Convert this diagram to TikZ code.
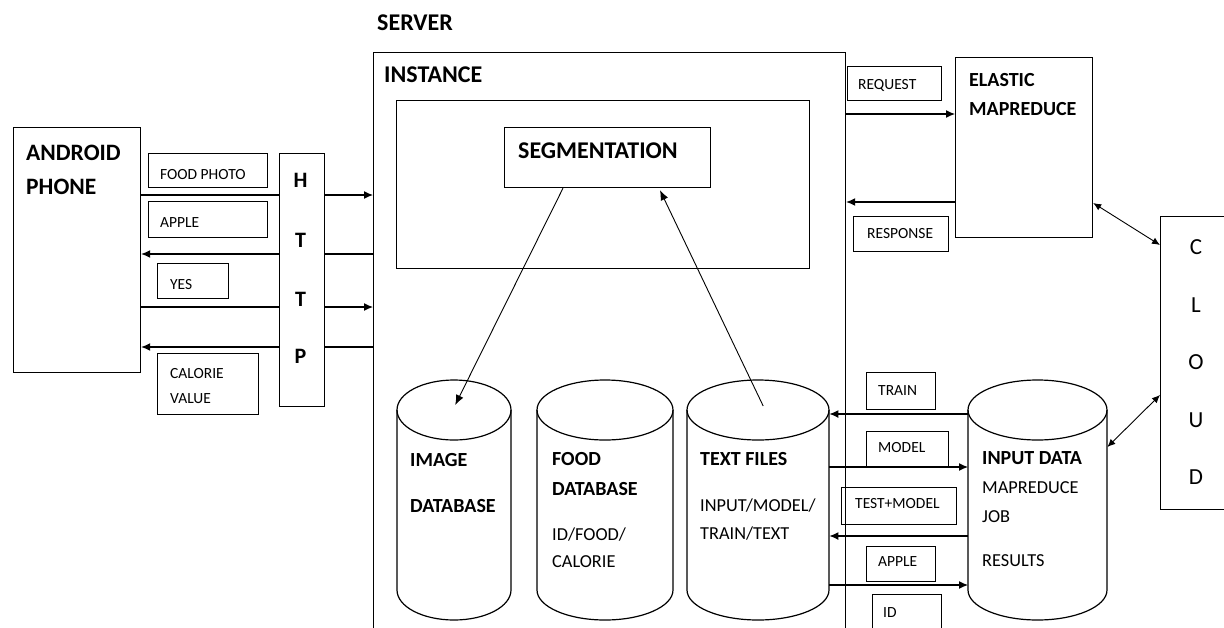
\documentclass[tikz,border=0pt]{standalone}
\usepackage{fontspec}
\setmainfont{Carlito}
\usetikzlibrary{arrows.meta,positioning,calc}

\tikzset{
  line/.style={line width=1.2pt},
  arr/.style={line, -{Latex[length=9pt,width=8pt]}},
  thinarr/.style={line width=0.9pt, -{Latex[length=10pt,width=8pt]}},
  duo/.style={line width=0.9pt, {Latex[length=8pt,width=7pt]}-{Latex[length=8pt,width=7pt]}},
  box/.style={draw, line width=1.2pt, anchor=north west, inner sep=0pt},
  txt/.style={anchor=north west, inner sep=0pt, align=left},
  big/.style={txt, font=\bfseries\fontsize{24}{30}\selectfont},
  mid/.style={txt, font=\bfseries\fontsize{20}{29}\selectfont},
  body/.style={txt, font=\fontsize{18.3}{29}\selectfont},
  small/.style={txt, font=\fontsize{15.5}{25}\selectfont},
  letter/.style={inner sep=0pt, font=\bfseries\fontsize{22}{26}\selectfont},
  cloudch/.style={inner sep=0pt, font=\fontsize{23}{26}\selectfont},
}

% cylinder: name, left, right, top, bottom
\newcommand{\dbcyl}[5]{%
  \pgfmathsetmacro{\cylrx}{(#3-#2)/2}%
  \draw[line] (#2,#4+30) -- (#2,#5-30) arc[start angle=180, end angle=0, x radius=\cylrx, y radius=30] -- (#3,#4+30);
  \draw[line] (#2+\cylrx,#4+30) ellipse[x radius=\cylrx, y radius=30];
  \node[inner sep=0pt, anchor=north west, minimum width={(#3-#2)*1pt}, minimum height={(#5-#4)*1pt}] (#1) at (#2,#4) {};
}

\begin{document}
\begin{tikzpicture}[x=1pt, y=-1pt]
  \useasboundingbox (0,0) rectangle (1224,627);
  % phone and http
  \node[box, minimum width=127pt, minimum height=245pt] (android) at (13,127) {};
  \node[txt, font=\bfseries\fontsize{23.5}{34}\selectfont] (android-t) at (26,145) {ANDROID\\PHONE};
  \node[box, minimum width=45pt, minimum height=253pt] (http) at (279,153) {};
  \foreach \ch/\yy [count=\i] in {H/180, T/240, T/299, P/356}
    \node[letter] (http-\i) at (300.5,\yy) {\ch};
  \node[box, minimum width=119pt, minimum height=34pt] (photo) at (148,153) {};
  \node[small] (photo-t) at (160,169) {FOOD PHOTO};
  \node[box, minimum width=119pt, minimum height=36pt] (apple1) at (148,201) {};
  \node[small] (apple1-t) at (160,217) {APPLE};
  \node[box, minimum width=71pt, minimum height=35pt] (yes) at (157,263) {};
  \node[small] (yes-t) at (170,279) {YES};
  \node[box, minimum width=101pt, minimum height=61pt] (calorie) at (157,353) {};
  \node[small] (calorie-t) at (170,368) {CALORIE\\VALUE};

  % server
  \node[big] (server) at (377,15) {SERVER};
  \node[box, minimum width=472pt, minimum height=620pt] (inst) at (373,52) {};
  \node[big] (inst-t) at (384,67) {INSTANCE};
  \node[box, minimum width=413pt, minimum height=168pt] (inner) at (396,100) {};
  \node[box, minimum width=206pt, minimum height=60pt] (seg) at (504,127) {};
  \node[big] (seg-t) at (518,143) {SEGMENTATION};

  % databases
  \dbcyl{imgdb}{397}{511}{380}{620}
  \dbcyl{fooddb}{537}{673}{380}{620}
  \dbcyl{tfiles}{687}{829}{380}{620}
  \dbcyl{indata}{968}{1107}{380}{620}
  \node[mid] (imgdb-t) at (410,453) {IMAGE\\[17pt]DATABASE};
  \node[body] (fooddb-t) at (552,452) {\textbf{\fontsize{20}{29}\selectfont FOOD}\\[1pt]\textbf{\fontsize{20}{29}\selectfont DATABASE}\\[16pt]ID/FOOD/\\[-2pt]CALORIE};
  \node[body] (tfiles-t) at (700,452) {\textbf{\fontsize{20}{29}\selectfont TEXT FILES}\\[17pt]INPUT/MODEL/\\[-1pt]TRAIN/TEXT};
  \node[body] (indata-t) at (982,451) {\textbf{\fontsize{20}{29}\selectfont INPUT DATA}\\MAPREDUCE\\JOB\\[15pt]RESULTS};

  % cloud side
  \node[box, minimum width=94pt, minimum height=34pt] (request) at (847,66) {};
  \node[small] (request-t) at (858,79) {REQUEST};
  \node[box, minimum width=137pt, minimum height=180pt] (elastic) at (955,57) {};
  \node[mid] (elastic-t) at (969,73) {ELASTIC\\MAPREDUCE};
  \node[box, minimum width=95pt, minimum height=35pt] (response) at (853,216) {};
  \node[small] (response-t) at (867,228) {RESPONSE};
  \node[box, minimum width=100pt, minimum height=293pt] (cloud) at (1160,216) {};
  \foreach \ch/\yy in {C/247, L/305, O/362, U/420, D/477}
    \node[cloudch] (cloud-\ch) at (1196,\yy) {\ch};

  % job labels
  \node[box, minimum width=69pt, minimum height=37pt] (train) at (866,372) {};
  \node[small] (train-t) at (878,385) {TRAIN};
  \node[box, minimum width=82pt, minimum height=35pt] (model) at (866,431) {};
  \node[small] (model-t) at (878,442) {MODEL};
  \node[box, minimum width=115pt, minimum height=37pt] (test) at (841,487) {};
  \node[small] (test-t) at (855,498) {TEST+MODEL};
  \node[box, minimum width=69pt, minimum height=35pt] (apple2) at (866,546) {};
  \node[small] (apple2-t) at (878,556) {APPLE};
  \node[box, minimum width=69pt, minimum height=40pt] (id) at (872,594) {};
  \node[small] (id-t) at (883,607) {ID};

  % http links
  \foreach \yy in {195,307} {
    \draw[line] (android.east |- 0,\yy) -- (http.west |- 0,\yy);
    \draw[arr] (http.east |- 0,\yy) -- (inst.west |- 0,\yy);
  }
  \foreach \yy in {254,347} {
    \draw[arr] (http.west |- 0,\yy) -- (android.east |- 0,\yy);
    \draw[line] (inst.west |- 0,\yy) -- (http.east |- 0,\yy);
  }
  % segmentation
  \draw[thinarr] ($(seg.south west)+(59,0)$) -- ($(imgdb.north)+(1,25)$);
  \draw[thinarr] ($(tfiles.north)+(5,26)$) -- ($(seg.south west)+(156,2)$);
  % elastic mapreduce
  \draw[arr] (inst.east |- 0,114) -- (elastic.west |- 0,114);
  \draw[arr] (elastic.west |- 0,202) -- (inst.east |- 0,202);
  \draw[duo] (elastic.east |- 0,203) -- (cloud.west |- 0,245);
  \draw[duo] (indata.east |- 0,447) -- (cloud.west |- 0,395);
  % jobs
  \draw[arr] (indata.west |- 0,414) -- (tfiles.east |- 0,414);
  \draw[arr] (tfiles.east |- 0,467) -- (indata.west |- 0,467);
  \draw[arr] (indata.west |- 0,536) -- (tfiles.east |- 0,536);
  \draw[arr] (tfiles.east |- 0,585) -- (indata.west |- 0,585);
\end{tikzpicture}
\end{document}
